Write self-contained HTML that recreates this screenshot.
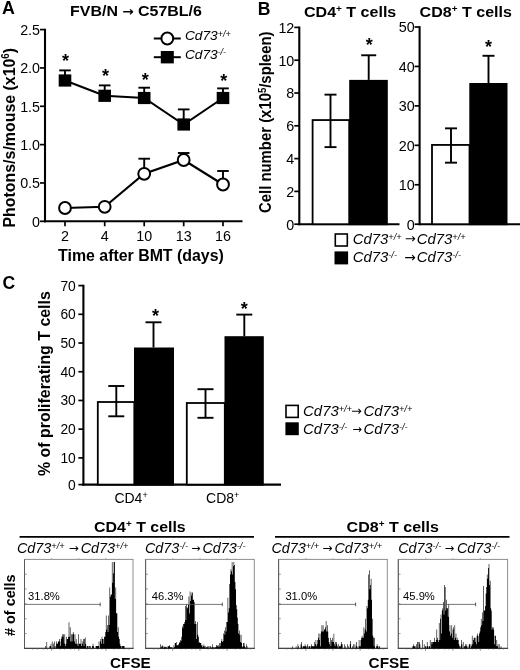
<!DOCTYPE html>
<html lang="en">
<head>
<meta charset="utf-8">
<title>Figure</title>
<style>
html,body{margin:0;padding:0;background:#fff;}
body{width:520px;height:670px;overflow:hidden;}
svg{display:block;font-family:"Liberation Sans", Arial, Helvetica, sans-serif;}
svg text{font-family:"Liberation Sans", Arial, Helvetica, sans-serif;}
</style>
</head>
<body>
<svg width="520" height="670" viewBox="0 0 520 670">
<rect x="0" y="0" width="520" height="670" fill="#fff"/>
<text x="2.00" y="13.80" font-size="17.8" font-weight="bold" font-style="normal" text-anchor="start" fill="#000" >A</text>
<text x="70.10" y="16.00" font-size="15.3" font-weight="bold" font-style="normal" text-anchor="start" fill="#000" textLength="131.8" lengthAdjust="spacingAndGlyphs">FVB/N <tspan font-family='DejaVu Sans' font-size='13'>&#8594;</tspan> C57BL/6</text>
<line x1="45.00" y1="28.75" x2="45.00" y2="222.35" stroke="#000" stroke-width="2.1" stroke-linecap="butt"/>
<line x1="43.95" y1="221.30" x2="242.50" y2="221.30" stroke="#000" stroke-width="2.1" stroke-linecap="butt"/>
<line x1="40.00" y1="221.30" x2="45.00" y2="221.30" stroke="#000" stroke-width="1.7" stroke-linecap="butt"/>
<text x="40.00" y="226.60" font-size="14.3" font-weight="normal" font-style="normal" text-anchor="end" fill="#000" >0</text>
<line x1="40.00" y1="182.96" x2="45.00" y2="182.96" stroke="#000" stroke-width="1.7" stroke-linecap="butt"/>
<text x="40.00" y="188.26" font-size="14.3" font-weight="normal" font-style="normal" text-anchor="end" fill="#000" >0.5</text>
<line x1="40.00" y1="144.62" x2="45.00" y2="144.62" stroke="#000" stroke-width="1.7" stroke-linecap="butt"/>
<text x="40.00" y="149.92" font-size="14.3" font-weight="normal" font-style="normal" text-anchor="end" fill="#000" >1.0</text>
<line x1="40.00" y1="106.28" x2="45.00" y2="106.28" stroke="#000" stroke-width="1.7" stroke-linecap="butt"/>
<text x="40.00" y="111.58" font-size="14.3" font-weight="normal" font-style="normal" text-anchor="end" fill="#000" >1.5</text>
<line x1="40.00" y1="67.94" x2="45.00" y2="67.94" stroke="#000" stroke-width="1.7" stroke-linecap="butt"/>
<text x="40.00" y="73.24" font-size="14.3" font-weight="normal" font-style="normal" text-anchor="end" fill="#000" >2.0</text>
<line x1="40.00" y1="29.60" x2="45.00" y2="29.60" stroke="#000" stroke-width="1.7" stroke-linecap="butt"/>
<text x="40.00" y="34.90" font-size="14.3" font-weight="normal" font-style="normal" text-anchor="end" fill="#000" >2.5</text>
<line x1="65.00" y1="221.30" x2="65.00" y2="226.30" stroke="#000" stroke-width="1.7" stroke-linecap="butt"/>
<text x="65.00" y="241.30" font-size="14.3" font-weight="normal" font-style="normal" text-anchor="middle" fill="#000" >2</text>
<line x1="104.70" y1="221.30" x2="104.70" y2="226.30" stroke="#000" stroke-width="1.7" stroke-linecap="butt"/>
<text x="104.70" y="241.30" font-size="14.3" font-weight="normal" font-style="normal" text-anchor="middle" fill="#000" >4</text>
<line x1="144.20" y1="221.30" x2="144.20" y2="226.30" stroke="#000" stroke-width="1.7" stroke-linecap="butt"/>
<text x="144.20" y="241.30" font-size="14.3" font-weight="normal" font-style="normal" text-anchor="middle" fill="#000" >10</text>
<line x1="183.70" y1="221.30" x2="183.70" y2="226.30" stroke="#000" stroke-width="1.7" stroke-linecap="butt"/>
<text x="183.70" y="241.30" font-size="14.3" font-weight="normal" font-style="normal" text-anchor="middle" fill="#000" >13</text>
<line x1="223.00" y1="221.30" x2="223.00" y2="226.30" stroke="#000" stroke-width="1.7" stroke-linecap="butt"/>
<text x="223.00" y="241.30" font-size="14.3" font-weight="normal" font-style="normal" text-anchor="middle" fill="#000" >16</text>
<text x="58.10" y="260.70" font-size="15.9" font-weight="bold" font-style="normal" text-anchor="start" fill="#000" textLength="165.7" lengthAdjust="spacingAndGlyphs">Time after BMT (days)</text>
<text transform="translate(14.7,227.5) rotate(-90)" font-size="17.4" font-weight="bold" textLength="179.5" lengthAdjust="spacingAndGlyphs">Photons/s/mouse (x10<tspan font-size="10.5" dy="-5.5">6</tspan><tspan dy="5.5" font-size="1">&#8203;</tspan>)</text>
<polyline points="65.0,80.5 104.7,95.8 144.2,98.0 183.7,124.5 223.0,98.0" fill="none" stroke="#000" stroke-width="2.1"/>
<polyline points="65.0,208.0 104.7,206.8 144.2,173.8 183.7,160.0 223.0,184.5" fill="none" stroke="#000" stroke-width="2.1"/>
<line x1="65.00" y1="80.50" x2="65.00" y2="70.40" stroke="#000" stroke-width="1.9" stroke-linecap="butt"/>
<line x1="59.20" y1="70.40" x2="70.80" y2="70.40" stroke="#000" stroke-width="1.9" stroke-linecap="butt"/>
<rect x="58.70" y="74.40" width="12.60" height="12.20" fill="#000" stroke="none" stroke-width="0"/>
<line x1="104.70" y1="95.80" x2="104.70" y2="85.40" stroke="#000" stroke-width="1.9" stroke-linecap="butt"/>
<line x1="98.90" y1="85.40" x2="110.50" y2="85.40" stroke="#000" stroke-width="1.9" stroke-linecap="butt"/>
<rect x="98.40" y="89.70" width="12.60" height="12.20" fill="#000" stroke="none" stroke-width="0"/>
<line x1="144.20" y1="98.00" x2="144.20" y2="87.70" stroke="#000" stroke-width="1.9" stroke-linecap="butt"/>
<line x1="138.40" y1="87.70" x2="150.00" y2="87.70" stroke="#000" stroke-width="1.9" stroke-linecap="butt"/>
<rect x="137.90" y="91.90" width="12.60" height="12.20" fill="#000" stroke="none" stroke-width="0"/>
<line x1="183.70" y1="124.50" x2="183.70" y2="109.40" stroke="#000" stroke-width="1.9" stroke-linecap="butt"/>
<line x1="177.90" y1="109.40" x2="189.50" y2="109.40" stroke="#000" stroke-width="1.9" stroke-linecap="butt"/>
<rect x="177.40" y="118.40" width="12.60" height="12.20" fill="#000" stroke="none" stroke-width="0"/>
<line x1="223.00" y1="98.00" x2="223.00" y2="88.40" stroke="#000" stroke-width="1.9" stroke-linecap="butt"/>
<line x1="217.20" y1="88.40" x2="228.80" y2="88.40" stroke="#000" stroke-width="1.9" stroke-linecap="butt"/>
<rect x="216.70" y="91.90" width="12.60" height="12.20" fill="#000" stroke="none" stroke-width="0"/>
<circle cx="65" cy="208" r="5.9" fill="#fff" stroke="#000" stroke-width="2.0"/>
<circle cx="104.7" cy="206.8" r="5.9" fill="#fff" stroke="#000" stroke-width="2.0"/>
<line x1="144.20" y1="173.80" x2="144.20" y2="158.70" stroke="#000" stroke-width="1.9" stroke-linecap="butt"/>
<line x1="138.40" y1="158.70" x2="150.00" y2="158.70" stroke="#000" stroke-width="1.9" stroke-linecap="butt"/>
<circle cx="144.2" cy="173.8" r="5.9" fill="#fff" stroke="#000" stroke-width="2.0"/>
<line x1="183.70" y1="160.00" x2="183.70" y2="153.00" stroke="#000" stroke-width="1.9" stroke-linecap="butt"/>
<line x1="177.90" y1="153.00" x2="189.50" y2="153.00" stroke="#000" stroke-width="1.9" stroke-linecap="butt"/>
<circle cx="183.7" cy="160" r="5.9" fill="#fff" stroke="#000" stroke-width="2.0"/>
<line x1="223.00" y1="184.50" x2="223.00" y2="171.00" stroke="#000" stroke-width="1.9" stroke-linecap="butt"/>
<line x1="217.20" y1="171.00" x2="228.80" y2="171.00" stroke="#000" stroke-width="1.9" stroke-linecap="butt"/>
<circle cx="223" cy="184.5" r="5.9" fill="#fff" stroke="#000" stroke-width="2.0"/>
<text x="65.50" y="67.38" font-size="18" font-weight="bold" font-style="normal" text-anchor="middle" fill="#000" >*</text>
<text x="105.50" y="82.18" font-size="18" font-weight="bold" font-style="normal" text-anchor="middle" fill="#000" >*</text>
<text x="145.30" y="86.48" font-size="18" font-weight="bold" font-style="normal" text-anchor="middle" fill="#000" >*</text>
<text x="223.80" y="86.98" font-size="18" font-weight="bold" font-style="normal" text-anchor="middle" fill="#000" >*</text>
<line x1="153.80" y1="38.50" x2="180.80" y2="38.50" stroke="#000" stroke-width="2.0" stroke-linecap="butt"/>
<circle cx="167.3" cy="38.5" r="5.9" fill="#fff" stroke="#000" stroke-width="2.0"/>
<line x1="153.80" y1="57.20" x2="180.80" y2="57.20" stroke="#000" stroke-width="2.0" stroke-linecap="butt"/>
<rect x="160.80" y="51.00" width="13.00" height="12.40" fill="#000" stroke="none" stroke-width="0"/>
<text x="184.90" y="40.40" font-size="13.7" font-weight="normal" font-style="italic" text-anchor="start" fill="#000" >Cd73<tspan font-size="9.0" dy="-3.6">+/+</tspan><tspan dy="3.6" font-size="1">&#8203;</tspan></text>
<text x="184.90" y="58.60" font-size="13.7" font-weight="normal" font-style="italic" text-anchor="start" fill="#000" >Cd73<tspan font-size="9.0" dy="-3.6">-/-</tspan><tspan dy="3.6" font-size="1">&#8203;</tspan></text>
<text x="257.80" y="14.90" font-size="17.6" font-weight="bold" font-style="normal" text-anchor="start" fill="#000" >B</text>
<text x="304.00" y="16.60" font-size="15.3" font-weight="bold" font-style="normal" text-anchor="start" fill="#000" textLength="92.3" lengthAdjust="spacingAndGlyphs">CD4<tspan font-size="9.5" dy="-4.5">+</tspan><tspan dy="4.5" font-size="1">&#8203;</tspan> T cells</text>
<text x="419.60" y="16.90" font-size="15.3" font-weight="bold" font-style="normal" text-anchor="start" fill="#000" textLength="92.3" lengthAdjust="spacingAndGlyphs">CD8<tspan font-size="9.5" dy="-4.5">+</tspan><tspan dy="4.5" font-size="1">&#8203;</tspan> T cells</text>
<text transform="translate(270.8,213) rotate(-90)" font-size="15.6" font-weight="bold" textLength="181.5" lengthAdjust="spacingAndGlyphs">Cell number (x10<tspan font-size="10" dy="-5.2">5</tspan><tspan dy="5.2" font-size="1">&#8203;</tspan>/spleen)</text>
<line x1="299.30" y1="26.55" x2="299.30" y2="225.25" stroke="#000" stroke-width="2.1" stroke-linecap="butt"/>
<line x1="298.25" y1="224.20" x2="399.50" y2="224.20" stroke="#000" stroke-width="2.1" stroke-linecap="butt"/>
<line x1="294.30" y1="224.20" x2="299.30" y2="224.20" stroke="#000" stroke-width="1.7" stroke-linecap="butt"/>
<text x="294.30" y="229.50" font-size="14.3" font-weight="normal" font-style="normal" text-anchor="end" fill="#000" >0</text>
<line x1="294.30" y1="191.40" x2="299.30" y2="191.40" stroke="#000" stroke-width="1.7" stroke-linecap="butt"/>
<text x="294.30" y="196.70" font-size="14.3" font-weight="normal" font-style="normal" text-anchor="end" fill="#000" >2</text>
<line x1="294.30" y1="158.60" x2="299.30" y2="158.60" stroke="#000" stroke-width="1.7" stroke-linecap="butt"/>
<text x="294.30" y="163.90" font-size="14.3" font-weight="normal" font-style="normal" text-anchor="end" fill="#000" >4</text>
<line x1="294.30" y1="125.80" x2="299.30" y2="125.80" stroke="#000" stroke-width="1.7" stroke-linecap="butt"/>
<text x="294.30" y="131.10" font-size="14.3" font-weight="normal" font-style="normal" text-anchor="end" fill="#000" >6</text>
<line x1="294.30" y1="93.00" x2="299.30" y2="93.00" stroke="#000" stroke-width="1.7" stroke-linecap="butt"/>
<text x="294.30" y="98.30" font-size="14.3" font-weight="normal" font-style="normal" text-anchor="end" fill="#000" >8</text>
<line x1="294.30" y1="60.20" x2="299.30" y2="60.20" stroke="#000" stroke-width="1.7" stroke-linecap="butt"/>
<text x="294.30" y="65.50" font-size="14.3" font-weight="normal" font-style="normal" text-anchor="end" fill="#000" >10</text>
<line x1="294.30" y1="27.40" x2="299.30" y2="27.40" stroke="#000" stroke-width="1.7" stroke-linecap="butt"/>
<text x="294.30" y="32.70" font-size="14.3" font-weight="normal" font-style="normal" text-anchor="end" fill="#000" >12</text>
<rect x="312.60" y="120.06" width="36.60" height="104.14" fill="#fff" stroke="#000" stroke-width="1.8"/>
<line x1="330.50" y1="147.12" x2="330.50" y2="94.64" stroke="#000" stroke-width="1.9" stroke-linecap="butt"/>
<line x1="324.50" y1="147.12" x2="336.50" y2="147.12" stroke="#000" stroke-width="1.9" stroke-linecap="butt"/>
<line x1="324.50" y1="94.64" x2="336.50" y2="94.64" stroke="#000" stroke-width="1.9" stroke-linecap="butt"/>
<rect x="349.20" y="79.88" width="38.60" height="145.32" fill="#000" stroke="none" stroke-width="0"/>
<line x1="368.70" y1="79.88" x2="368.70" y2="55.28" stroke="#000" stroke-width="1.9" stroke-linecap="butt"/>
<line x1="361.20" y1="55.28" x2="376.20" y2="55.28" stroke="#000" stroke-width="1.9" stroke-linecap="butt"/>
<text x="369.20" y="51.08" font-size="18" font-weight="bold" font-style="normal" text-anchor="middle" fill="#000" >*</text>
<line x1="419.60" y1="26.15" x2="419.60" y2="225.25" stroke="#000" stroke-width="2.1" stroke-linecap="butt"/>
<line x1="418.55" y1="224.20" x2="520.00" y2="224.20" stroke="#000" stroke-width="2.1" stroke-linecap="butt"/>
<line x1="414.60" y1="224.20" x2="419.60" y2="224.20" stroke="#000" stroke-width="1.7" stroke-linecap="butt"/>
<text x="414.60" y="229.50" font-size="14.3" font-weight="normal" font-style="normal" text-anchor="end" fill="#000" >0</text>
<line x1="414.60" y1="184.76" x2="419.60" y2="184.76" stroke="#000" stroke-width="1.7" stroke-linecap="butt"/>
<text x="414.60" y="190.06" font-size="14.3" font-weight="normal" font-style="normal" text-anchor="end" fill="#000" >10</text>
<line x1="414.60" y1="145.32" x2="419.60" y2="145.32" stroke="#000" stroke-width="1.7" stroke-linecap="butt"/>
<text x="414.60" y="150.62" font-size="14.3" font-weight="normal" font-style="normal" text-anchor="end" fill="#000" >20</text>
<line x1="414.60" y1="105.88" x2="419.60" y2="105.88" stroke="#000" stroke-width="1.7" stroke-linecap="butt"/>
<text x="414.60" y="111.18" font-size="14.3" font-weight="normal" font-style="normal" text-anchor="end" fill="#000" >30</text>
<line x1="414.60" y1="66.44" x2="419.60" y2="66.44" stroke="#000" stroke-width="1.7" stroke-linecap="butt"/>
<text x="414.60" y="71.74" font-size="14.3" font-weight="normal" font-style="normal" text-anchor="end" fill="#000" >40</text>
<line x1="414.60" y1="27.00" x2="419.60" y2="27.00" stroke="#000" stroke-width="1.7" stroke-linecap="butt"/>
<text x="414.60" y="32.30" font-size="14.3" font-weight="normal" font-style="normal" text-anchor="end" fill="#000" >50</text>
<rect x="432.00" y="144.93" width="37.50" height="79.27" fill="#fff" stroke="#000" stroke-width="1.8"/>
<line x1="451.00" y1="162.67" x2="451.00" y2="128.36" stroke="#000" stroke-width="1.9" stroke-linecap="butt"/>
<line x1="445.00" y1="162.67" x2="457.00" y2="162.67" stroke="#000" stroke-width="1.9" stroke-linecap="butt"/>
<line x1="445.00" y1="128.36" x2="457.00" y2="128.36" stroke="#000" stroke-width="1.9" stroke-linecap="butt"/>
<rect x="469.30" y="83.00" width="38.20" height="142.20" fill="#000" stroke="none" stroke-width="0"/>
<line x1="488.50" y1="83.00" x2="488.50" y2="55.79" stroke="#000" stroke-width="1.9" stroke-linecap="butt"/>
<line x1="482.50" y1="55.79" x2="494.50" y2="55.79" stroke="#000" stroke-width="1.9" stroke-linecap="butt"/>
<text x="488.50" y="53.18" font-size="18" font-weight="bold" font-style="normal" text-anchor="middle" fill="#000" >*</text>
<rect x="335.30" y="234.00" width="12.00" height="12.00" fill="#fff" stroke="#000" stroke-width="1.6"/>
<rect x="334.50" y="251.40" width="13.60" height="13.00" fill="#000" stroke="none" stroke-width="0"/>
<text x="352.70" y="243.90" font-size="14.9" font-weight="normal" font-style="italic" text-anchor="start" fill="#000" >Cd73<tspan font-size="9.2" dy="-4.2">+/+</tspan><tspan dy="4.2" font-size="1">&#8203;</tspan></text>
<text x="404.89" y="243.29" font-size="12.95" style="font-family:'DejaVu Sans',sans-serif">&#8594;</text>
<text x="416.70" y="243.90" font-size="14.9" font-weight="normal" font-style="italic" text-anchor="start" fill="#000" >Cd73<tspan font-size="9.2" dy="-4.2">+/+</tspan><tspan dy="4.2" font-size="1">&#8203;</tspan></text>
<text x="352.70" y="262.00" font-size="14.9" font-weight="normal" font-style="italic" text-anchor="start" fill="#000" >Cd73<tspan font-size="9.2" dy="-4.2">-/-</tspan><tspan dy="4.2" font-size="1">&#8203;</tspan></text>
<text x="404.24" y="261.61" font-size="13.72" style="font-family:'DejaVu Sans',sans-serif">&#8594;</text>
<text x="416.70" y="262.00" font-size="14.9" font-weight="normal" font-style="italic" text-anchor="start" fill="#000" >Cd73<tspan font-size="9.2" dy="-4.2">-/-</tspan><tspan dy="4.2" font-size="1">&#8203;</tspan></text>
<text x="2.40" y="288.90" font-size="17.6" font-weight="bold" font-style="normal" text-anchor="start" fill="#000" >C</text>
<line x1="83.40" y1="284.75" x2="83.40" y2="485.65" stroke="#000" stroke-width="2.1" stroke-linecap="butt"/>
<line x1="82.35" y1="484.60" x2="281.00" y2="484.60" stroke="#000" stroke-width="2.1" stroke-linecap="butt"/>
<line x1="78.40" y1="484.60" x2="83.40" y2="484.60" stroke="#000" stroke-width="1.7" stroke-linecap="butt"/>
<text x="75.80" y="489.60" font-size="13.8" font-weight="normal" font-style="normal" text-anchor="end" fill="#000" >0</text>
<line x1="78.40" y1="457.89" x2="83.40" y2="457.89" stroke="#000" stroke-width="1.7" stroke-linecap="butt"/>
<text x="75.80" y="462.89" font-size="13.8" font-weight="normal" font-style="normal" text-anchor="end" fill="#000" >10</text>
<line x1="78.40" y1="429.17" x2="83.40" y2="429.17" stroke="#000" stroke-width="1.7" stroke-linecap="butt"/>
<text x="75.80" y="434.17" font-size="13.8" font-weight="normal" font-style="normal" text-anchor="end" fill="#000" >20</text>
<line x1="78.40" y1="400.46" x2="83.40" y2="400.46" stroke="#000" stroke-width="1.7" stroke-linecap="butt"/>
<text x="75.80" y="405.46" font-size="13.8" font-weight="normal" font-style="normal" text-anchor="end" fill="#000" >30</text>
<line x1="78.40" y1="371.74" x2="83.40" y2="371.74" stroke="#000" stroke-width="1.7" stroke-linecap="butt"/>
<text x="75.80" y="376.74" font-size="13.8" font-weight="normal" font-style="normal" text-anchor="end" fill="#000" >40</text>
<line x1="78.40" y1="343.03" x2="83.40" y2="343.03" stroke="#000" stroke-width="1.7" stroke-linecap="butt"/>
<text x="75.80" y="348.03" font-size="13.8" font-weight="normal" font-style="normal" text-anchor="end" fill="#000" >50</text>
<line x1="78.40" y1="314.31" x2="83.40" y2="314.31" stroke="#000" stroke-width="1.7" stroke-linecap="butt"/>
<text x="75.80" y="319.31" font-size="13.8" font-weight="normal" font-style="normal" text-anchor="end" fill="#000" >60</text>
<line x1="78.40" y1="285.60" x2="83.40" y2="285.60" stroke="#000" stroke-width="1.7" stroke-linecap="butt"/>
<text x="75.80" y="290.60" font-size="13.8" font-weight="normal" font-style="normal" text-anchor="end" fill="#000" >70</text>
<text transform="translate(50.2,476) rotate(-90)" font-size="16.2" font-weight="bold" textLength="184.8" lengthAdjust="spacingAndGlyphs">% of proliferating T cells</text>
<rect x="97.80" y="402.00" width="36.50" height="82.60" fill="#fff" stroke="#000" stroke-width="1.8"/>
<line x1="116.30" y1="386.00" x2="116.30" y2="416.30" stroke="#000" stroke-width="1.9" stroke-linecap="butt"/>
<line x1="108.30" y1="386.00" x2="124.30" y2="386.00" stroke="#000" stroke-width="1.9" stroke-linecap="butt"/>
<line x1="108.30" y1="416.30" x2="124.30" y2="416.30" stroke="#000" stroke-width="1.9" stroke-linecap="butt"/>
<rect x="134.00" y="347.50" width="40.00" height="138.10" fill="#000" stroke="none" stroke-width="0"/>
<line x1="153.50" y1="347.50" x2="153.50" y2="322.30" stroke="#000" stroke-width="1.9" stroke-linecap="butt"/>
<line x1="145.50" y1="322.30" x2="161.50" y2="322.30" stroke="#000" stroke-width="1.9" stroke-linecap="butt"/>
<text x="155.40" y="322.18" font-size="18" font-weight="bold" font-style="normal" text-anchor="middle" fill="#000" >*</text>
<rect x="186.80" y="403.00" width="38.00" height="81.60" fill="#fff" stroke="#000" stroke-width="1.8"/>
<line x1="205.50" y1="389.20" x2="205.50" y2="417.80" stroke="#000" stroke-width="1.9" stroke-linecap="butt"/>
<line x1="197.50" y1="389.20" x2="213.50" y2="389.20" stroke="#000" stroke-width="1.9" stroke-linecap="butt"/>
<line x1="197.50" y1="417.80" x2="213.50" y2="417.80" stroke="#000" stroke-width="1.9" stroke-linecap="butt"/>
<rect x="224.50" y="336.20" width="39.30" height="149.40" fill="#000" stroke="none" stroke-width="0"/>
<line x1="244.30" y1="336.20" x2="244.30" y2="314.60" stroke="#000" stroke-width="1.9" stroke-linecap="butt"/>
<line x1="236.30" y1="314.60" x2="252.30" y2="314.60" stroke="#000" stroke-width="1.9" stroke-linecap="butt"/>
<text x="244.30" y="315.48" font-size="18" font-weight="bold" font-style="normal" text-anchor="middle" fill="#000" >*</text>
<text x="114.40" y="502.60" font-size="14.0" font-weight="normal" font-style="normal" text-anchor="start" fill="#000" >CD4<tspan font-size="9" dy="-5">+</tspan><tspan dy="5" font-size="1">&#8203;</tspan></text>
<text x="206.10" y="502.60" font-size="14.0" font-weight="normal" font-style="normal" text-anchor="start" fill="#000" >CD8<tspan font-size="9" dy="-5">+</tspan><tspan dy="5" font-size="1">&#8203;</tspan></text>
<rect x="286.00" y="405.40" width="12.20" height="12.00" fill="#fff" stroke="#000" stroke-width="1.6"/>
<rect x="285.40" y="422.30" width="13.40" height="12.90" fill="#000" stroke="none" stroke-width="0"/>
<text x="303.10" y="416.00" font-size="14.9" font-weight="normal" font-style="italic" text-anchor="start" fill="#000" >Cd73<tspan font-size="9.2" dy="-4.2">+/+</tspan><tspan dy="4.2" font-size="1">&#8203;</tspan></text>
<text x="351.31" y="415.22" font-size="12.69" style="font-family:'DejaVu Sans',sans-serif">&#8594;</text>
<text x="363.40" y="416.00" font-size="14.9" font-weight="normal" font-style="italic" text-anchor="start" fill="#000" >Cd73<tspan font-size="9.2" dy="-4.2">+/+</tspan><tspan dy="4.2" font-size="1">&#8203;</tspan></text>
<text x="303.10" y="434.00" font-size="14.9" font-weight="normal" font-style="italic" text-anchor="start" fill="#000" >Cd73<tspan font-size="9.2" dy="-4.2">-/-</tspan><tspan dy="4.2" font-size="1">&#8203;</tspan></text>
<text x="352.40" y="432.95" font-size="11.41" style="font-family:'DejaVu Sans',sans-serif">&#8594;</text>
<text x="363.40" y="434.00" font-size="14.9" font-weight="normal" font-style="italic" text-anchor="start" fill="#000" >Cd73<tspan font-size="9.2" dy="-4.2">-/-</tspan><tspan dy="4.2" font-size="1">&#8203;</tspan></text>
<text x="94.10" y="531.60" font-size="15.3" font-weight="bold" font-style="normal" text-anchor="start" fill="#000" textLength="91.6" lengthAdjust="spacingAndGlyphs">CD4<tspan font-size="9.5" dy="-4.5">+</tspan><tspan dy="4.5" font-size="1">&#8203;</tspan> T cells</text>
<text x="346.60" y="531.60" font-size="15.3" font-weight="bold" font-style="normal" text-anchor="start" fill="#000" textLength="92.3" lengthAdjust="spacingAndGlyphs">CD8<tspan font-size="9.5" dy="-4.5">+</tspan><tspan dy="4.5" font-size="1">&#8203;</tspan> T cells</text>
<line x1="19.60" y1="536.90" x2="254.00" y2="536.90" stroke="#000" stroke-width="1.9" stroke-linecap="butt"/>
<line x1="275.00" y1="536.90" x2="509.50" y2="536.90" stroke="#000" stroke-width="1.9" stroke-linecap="butt"/>
<text x="16.90" y="552.80" font-size="14.4" font-weight="normal" font-style="italic" text-anchor="start" fill="#000" >Cd73<tspan font-size="9.2" dy="-4.2">+/+</tspan><tspan dy="4.2" font-size="1">&#8203;</tspan></text>
<text x="68.67" y="551.90" font-size="11.92" style="font-family:'DejaVu Sans',sans-serif">&#8594;</text>
<text x="80.70" y="552.80" font-size="14.4" font-weight="normal" font-style="italic" text-anchor="start" fill="#000" >Cd73<tspan font-size="9.2" dy="-4.2">+/+</tspan><tspan dy="4.2" font-size="1">&#8203;</tspan></text>
<text x="144.90" y="552.80" font-size="14.4" font-weight="normal" font-style="italic" text-anchor="start" fill="#000" >Cd73<tspan font-size="9.2" dy="-4.2">-/-</tspan><tspan dy="4.2" font-size="1">&#8203;</tspan></text>
<text x="191.24" y="551.61" font-size="10.90" style="font-family:'DejaVu Sans',sans-serif">&#8594;</text>
<text x="202.40" y="552.80" font-size="14.4" font-weight="normal" font-style="italic" text-anchor="start" fill="#000" >Cd73<tspan font-size="9.2" dy="-4.2">-/-</tspan><tspan dy="4.2" font-size="1">&#8203;</tspan></text>
<text x="271.40" y="552.80" font-size="14.4" font-weight="normal" font-style="italic" text-anchor="start" fill="#000" >Cd73<tspan font-size="9.2" dy="-4.2">+/+</tspan><tspan dy="4.2" font-size="1">&#8203;</tspan></text>
<text x="322.15" y="551.97" font-size="12.18" style="font-family:'DejaVu Sans',sans-serif">&#8594;</text>
<text x="334.40" y="552.80" font-size="14.4" font-weight="normal" font-style="italic" text-anchor="start" fill="#000" >Cd73<tspan font-size="9.2" dy="-4.2">+/+</tspan><tspan dy="4.2" font-size="1">&#8203;</tspan></text>
<text x="398.20" y="552.80" font-size="14.4" font-weight="normal" font-style="italic" text-anchor="start" fill="#000" >Cd73<tspan font-size="9.2" dy="-4.2">-/-</tspan><tspan dy="4.2" font-size="1">&#8203;</tspan></text>
<text x="444.69" y="551.79" font-size="11.54" style="font-family:'DejaVu Sans',sans-serif">&#8594;</text>
<text x="456.90" y="552.80" font-size="14.4" font-weight="normal" font-style="italic" text-anchor="start" fill="#000" >Cd73<tspan font-size="9.2" dy="-4.2">-/-</tspan><tspan dy="4.2" font-size="1">&#8203;</tspan></text>
<text transform="translate(14.8,635.9) rotate(-90)" font-size="14.6" font-weight="bold" textLength="61.5" lengthAdjust="spacingAndGlyphs"># of cells</text>
<text x="110.00" y="668.30" font-size="13.8" font-weight="bold" font-style="normal" text-anchor="start" fill="#000" textLength="40.8" lengthAdjust="spacingAndGlyphs">CFSE</text>
<text x="368.60" y="668.30" font-size="13.8" font-weight="bold" font-style="normal" text-anchor="start" fill="#000" textLength="40.8" lengthAdjust="spacingAndGlyphs">CFSE</text>
<rect x="24.5" y="559.4" width="108.50" height="89.00" fill="none" stroke="#8e8e8e" stroke-width="1.0"/>
<line x1="24.50" y1="559.40" x2="24.50" y2="648.40" stroke="#5a5a5a" stroke-width="1.0" stroke-linecap="butt"/>
<line x1="24.00" y1="648.40" x2="133.50" y2="648.40" stroke="#444" stroke-width="1.1" stroke-linecap="butt"/>
<line x1="24.50" y1="633.57" x2="26.70" y2="633.57" stroke="#777" stroke-width="0.8" stroke-linecap="butt"/>
<line x1="24.50" y1="618.73" x2="26.70" y2="618.73" stroke="#777" stroke-width="0.8" stroke-linecap="butt"/>
<line x1="24.50" y1="603.90" x2="26.70" y2="603.90" stroke="#777" stroke-width="0.8" stroke-linecap="butt"/>
<line x1="24.50" y1="589.07" x2="26.70" y2="589.07" stroke="#777" stroke-width="0.8" stroke-linecap="butt"/>
<line x1="24.50" y1="574.23" x2="26.70" y2="574.23" stroke="#777" stroke-width="0.8" stroke-linecap="butt"/>
<line x1="32.67" y1="648.40" x2="32.67" y2="649.60" stroke="#666" stroke-width="0.7" stroke-linecap="butt"/>
<line x1="37.44" y1="648.40" x2="37.44" y2="649.60" stroke="#666" stroke-width="0.7" stroke-linecap="butt"/>
<line x1="43.46" y1="648.40" x2="43.46" y2="649.60" stroke="#666" stroke-width="0.7" stroke-linecap="butt"/>
<line x1="47.42" y1="648.40" x2="47.42" y2="649.60" stroke="#666" stroke-width="0.7" stroke-linecap="butt"/>
<line x1="51.62" y1="648.40" x2="51.62" y2="650.80" stroke="#666" stroke-width="0.7" stroke-linecap="butt"/>
<line x1="51.62" y1="559.40" x2="51.62" y2="557.80" stroke="#999" stroke-width="0.7" stroke-linecap="butt"/>
<line x1="59.79" y1="648.40" x2="59.79" y2="649.60" stroke="#666" stroke-width="0.7" stroke-linecap="butt"/>
<line x1="64.57" y1="648.40" x2="64.57" y2="649.60" stroke="#666" stroke-width="0.7" stroke-linecap="butt"/>
<line x1="70.58" y1="648.40" x2="70.58" y2="649.60" stroke="#666" stroke-width="0.7" stroke-linecap="butt"/>
<line x1="74.55" y1="648.40" x2="74.55" y2="649.60" stroke="#666" stroke-width="0.7" stroke-linecap="butt"/>
<line x1="78.75" y1="648.40" x2="78.75" y2="650.80" stroke="#666" stroke-width="0.7" stroke-linecap="butt"/>
<line x1="78.75" y1="559.40" x2="78.75" y2="557.80" stroke="#999" stroke-width="0.7" stroke-linecap="butt"/>
<line x1="86.92" y1="648.40" x2="86.92" y2="649.60" stroke="#666" stroke-width="0.7" stroke-linecap="butt"/>
<line x1="91.69" y1="648.40" x2="91.69" y2="649.60" stroke="#666" stroke-width="0.7" stroke-linecap="butt"/>
<line x1="97.71" y1="648.40" x2="97.71" y2="649.60" stroke="#666" stroke-width="0.7" stroke-linecap="butt"/>
<line x1="101.67" y1="648.40" x2="101.67" y2="649.60" stroke="#666" stroke-width="0.7" stroke-linecap="butt"/>
<line x1="105.88" y1="648.40" x2="105.88" y2="650.80" stroke="#666" stroke-width="0.7" stroke-linecap="butt"/>
<line x1="105.88" y1="559.40" x2="105.88" y2="557.80" stroke="#999" stroke-width="0.7" stroke-linecap="butt"/>
<line x1="114.04" y1="648.40" x2="114.04" y2="649.60" stroke="#666" stroke-width="0.7" stroke-linecap="butt"/>
<line x1="118.82" y1="648.40" x2="118.82" y2="649.60" stroke="#666" stroke-width="0.7" stroke-linecap="butt"/>
<line x1="124.83" y1="648.40" x2="124.83" y2="649.60" stroke="#666" stroke-width="0.7" stroke-linecap="butt"/>
<line x1="128.80" y1="648.40" x2="128.80" y2="649.60" stroke="#666" stroke-width="0.7" stroke-linecap="butt"/>
<path d="M25.50,648.4V648.4H26.10V648.4H26.70V648.4H27.30V648.4H27.90V648.4H28.50V648.4H29.10V648.4H29.70V648.4H30.30V648.4H30.90V648.4H31.50V648.4H32.10V648.4H32.70V648.4H33.30V648.4H33.90V648.4H34.50V648.4H35.10V648.4H35.70V648.4H36.30V648.4H36.90V648.4H37.50V648.4H38.10V648.4H38.70V648.4H39.30V648.4H39.90V648.4H40.50V648.4H41.10V648.4H41.70V648.4H42.30V648.4H42.90V648.4H43.50V648.4H44.10V648.4H44.70V648.4H45.30V646.1H45.90V648.4H46.50V642.0H47.10V648.4H47.70V648.4H48.30V648.4H48.90V648.4H49.50V646.1H50.10V646.1H50.70V643.7H51.30V648.4H51.90V641.4H52.50V648.4H53.10V643.7H53.70V648.4H54.30V641.4H54.90V646.1H55.50V648.4H56.10V641.4H56.70V643.7H57.30V643.7H57.90V641.4H58.50V641.4H59.10V639.0H59.70V641.4H60.30V646.1H60.90V639.0H61.50V636.7H62.10V634.3H62.70V636.7H63.30V634.3H63.90V643.7H64.50V634.3H65.10V646.1H65.70V643.7H66.30V636.7H66.90V639.0H67.50V639.0H68.10V636.7H68.70V622.3H69.30V636.7H69.90V627.3H70.50V641.4H71.10V634.3H71.70V641.4H72.30V634.3H72.90V632.0H73.50V634.3H74.10V641.4H74.70V634.3H75.30V643.7H75.90V639.0H76.50V643.7H77.10V643.7H77.70V646.1H78.30V634.3H78.90V643.7H79.50V643.7H80.10V643.7H80.70V639.0H81.30V646.1H81.90V643.7H82.50V641.4H83.10V639.0H83.70V646.1H84.30V639.0H84.90V637.4H85.50V643.7H86.10V648.4H86.70V646.1H87.30V646.1H87.90V648.4H88.50V646.1H89.10V646.1H89.70V648.4H90.30V646.1H90.90V648.4H91.50V648.4H92.10V646.1H92.70V643.7H93.30V646.1H93.90V648.4H94.50V648.4H95.10V648.4H95.70V646.1H96.30V646.1H96.90V646.1H97.50V646.1H98.10V646.1H98.70V641.4H99.30V648.4H99.90V641.4H100.50V639.0H101.10V643.7H101.70V636.7H102.30V639.0H102.90V639.0H103.50V643.7H104.10V636.7H104.70V636.7H105.30V632.0H105.90V615.5H106.50V629.6H107.10V624.9H107.70V632.0H108.30V615.5H108.90V624.9H109.50V587.4H110.10V596.8H110.70V594.4H111.30V594.4H111.90V561.9H112.50V582.7H113.10V573.3H113.70V561.9H114.30V561.9H114.90V599.1H115.50V587.4H116.10V613.2H116.70V613.2H117.30V632.0H117.90V627.3H118.50V636.7H119.10V639.0H119.70V643.7H120.30V646.1H120.90V646.1H121.50V648.4H122.10V646.1H122.70V646.1H123.30V646.1H123.90V646.1H124.50V648.4H125.10V648.4H125.70V648.4H126.30V648.4H126.90V648.4H127.50V648.4H128.10V648.4H128.70V648.4H129.30V648.4H129.90V648.4H130.50V648.4H131.10V648.4H131.70V648.4H132.30V648.4Z" fill="#000"/>
<line x1="24.50" y1="604.40" x2="100.20" y2="604.40" stroke="#555" stroke-width="0.8" stroke-linecap="butt"/>
<line x1="100.20" y1="602.60" x2="100.20" y2="606.20" stroke="#444" stroke-width="0.9" stroke-linecap="butt"/>
<text x="28.10" y="599.60" font-size="11.2" font-weight="normal" font-style="normal" text-anchor="start" fill="#000" >31.8%</text>
<rect x="145.6" y="559.4" width="108.70" height="89.00" fill="none" stroke="#8e8e8e" stroke-width="1.0"/>
<line x1="145.60" y1="559.40" x2="145.60" y2="648.40" stroke="#5a5a5a" stroke-width="1.0" stroke-linecap="butt"/>
<line x1="145.10" y1="648.40" x2="254.80" y2="648.40" stroke="#444" stroke-width="1.1" stroke-linecap="butt"/>
<line x1="145.60" y1="633.57" x2="147.80" y2="633.57" stroke="#777" stroke-width="0.8" stroke-linecap="butt"/>
<line x1="145.60" y1="618.73" x2="147.80" y2="618.73" stroke="#777" stroke-width="0.8" stroke-linecap="butt"/>
<line x1="145.60" y1="603.90" x2="147.80" y2="603.90" stroke="#777" stroke-width="0.8" stroke-linecap="butt"/>
<line x1="145.60" y1="589.07" x2="147.80" y2="589.07" stroke="#777" stroke-width="0.8" stroke-linecap="butt"/>
<line x1="145.60" y1="574.23" x2="147.80" y2="574.23" stroke="#777" stroke-width="0.8" stroke-linecap="butt"/>
<line x1="153.78" y1="648.40" x2="153.78" y2="649.60" stroke="#666" stroke-width="0.7" stroke-linecap="butt"/>
<line x1="158.57" y1="648.40" x2="158.57" y2="649.60" stroke="#666" stroke-width="0.7" stroke-linecap="butt"/>
<line x1="164.59" y1="648.40" x2="164.59" y2="649.60" stroke="#666" stroke-width="0.7" stroke-linecap="butt"/>
<line x1="168.57" y1="648.40" x2="168.57" y2="649.60" stroke="#666" stroke-width="0.7" stroke-linecap="butt"/>
<line x1="172.78" y1="648.40" x2="172.78" y2="650.80" stroke="#666" stroke-width="0.7" stroke-linecap="butt"/>
<line x1="172.78" y1="559.40" x2="172.78" y2="557.80" stroke="#999" stroke-width="0.7" stroke-linecap="butt"/>
<line x1="180.96" y1="648.40" x2="180.96" y2="649.60" stroke="#666" stroke-width="0.7" stroke-linecap="butt"/>
<line x1="185.74" y1="648.40" x2="185.74" y2="649.60" stroke="#666" stroke-width="0.7" stroke-linecap="butt"/>
<line x1="191.77" y1="648.40" x2="191.77" y2="649.60" stroke="#666" stroke-width="0.7" stroke-linecap="butt"/>
<line x1="195.74" y1="648.40" x2="195.74" y2="649.60" stroke="#666" stroke-width="0.7" stroke-linecap="butt"/>
<line x1="199.95" y1="648.40" x2="199.95" y2="650.80" stroke="#666" stroke-width="0.7" stroke-linecap="butt"/>
<line x1="199.95" y1="559.40" x2="199.95" y2="557.80" stroke="#999" stroke-width="0.7" stroke-linecap="butt"/>
<line x1="208.13" y1="648.40" x2="208.13" y2="649.60" stroke="#666" stroke-width="0.7" stroke-linecap="butt"/>
<line x1="212.92" y1="648.40" x2="212.92" y2="649.60" stroke="#666" stroke-width="0.7" stroke-linecap="butt"/>
<line x1="218.94" y1="648.40" x2="218.94" y2="649.60" stroke="#666" stroke-width="0.7" stroke-linecap="butt"/>
<line x1="222.92" y1="648.40" x2="222.92" y2="649.60" stroke="#666" stroke-width="0.7" stroke-linecap="butt"/>
<line x1="227.12" y1="648.40" x2="227.12" y2="650.80" stroke="#666" stroke-width="0.7" stroke-linecap="butt"/>
<line x1="227.12" y1="559.40" x2="227.12" y2="557.80" stroke="#999" stroke-width="0.7" stroke-linecap="butt"/>
<line x1="235.31" y1="648.40" x2="235.31" y2="649.60" stroke="#666" stroke-width="0.7" stroke-linecap="butt"/>
<line x1="240.09" y1="648.40" x2="240.09" y2="649.60" stroke="#666" stroke-width="0.7" stroke-linecap="butt"/>
<line x1="246.12" y1="648.40" x2="246.12" y2="649.60" stroke="#666" stroke-width="0.7" stroke-linecap="butt"/>
<line x1="250.09" y1="648.40" x2="250.09" y2="649.60" stroke="#666" stroke-width="0.7" stroke-linecap="butt"/>
<path d="M146.60,648.4V648.4H147.20V648.4H147.80V648.4H148.40V648.4H149.00V648.4H149.60V648.4H150.20V648.4H150.80V648.4H151.40V648.4H152.00V648.4H152.60V648.4H153.20V648.4H153.80V648.4H154.40V648.4H155.00V648.4H155.60V648.4H156.20V648.4H156.80V648.4H157.40V648.4H158.00V648.4H158.60V648.4H159.20V648.4H159.80V648.4H160.40V644.2H161.00V646.3H161.60V647.3H162.20V645.2H162.80V646.3H163.40V648.4H164.00V647.3H164.60V646.3H165.20V647.3H165.80V647.3H166.40V647.3H167.00V648.4H167.60V646.3H168.20V646.3H168.80V646.3H169.40V645.2H170.00V647.3H170.60V647.3H171.20V647.3H171.80V647.3H172.40V648.4H173.00V648.4H173.60V645.2H174.20V647.3H174.80V643.1H175.40V643.1H176.00V642.1H176.60V645.2H177.20V645.2H177.80V645.2H178.40V644.2H179.00V642.1H179.60V643.1H180.20V639.9H180.80V641.0H181.40V636.8H182.00V626.2H182.60V628.3H183.20V624.1H183.80V624.1H184.40V622.0H185.00V606.1H185.60V619.9H186.20V604.0H186.80V607.2H187.40V608.3H188.00V605.1H188.60V596.6H189.20V613.5H189.80V591.4H190.40V600.9H191.00V595.6H191.60V592.4H192.20V592.4H192.80V599.8H193.40V599.8H194.00V601.9H194.60V624.1H195.20V620.9H195.80V624.1H196.40V638.9H197.00V622.0H197.60V634.7H198.20V636.8H198.80V643.1H199.40V642.1H200.00V643.1H200.60V643.1H201.20V645.2H201.80V645.2H202.40V647.3H203.00V646.3H203.60V644.2H204.20V646.3H204.80V648.4H205.40V646.3H206.00V647.3H206.60V647.3H207.20V646.3H207.80V648.4H208.40V646.3H209.00V648.4H209.60V646.3H210.20V646.3H210.80V648.4H211.40V647.3H212.00V644.2H212.60V647.3H213.20V647.3H213.80V648.4H214.40V647.3H215.00V647.3H215.60V647.3H216.20V645.2H216.80V645.2H217.40V646.3H218.00V645.2H218.60V647.3H219.20V643.1H219.80V646.3H220.40V643.1H221.00V641.0H221.60V638.9H222.20V642.1H222.80V641.0H223.40V633.6H224.00V630.4H224.60V634.7H225.20V627.3H225.80V631.5H226.40V622.0H227.00V622.0H227.60V597.7H228.20V612.5H228.80V608.3H229.40V584.0H230.00V574.5H230.60V569.2H231.20V571.3H231.80V561.9H232.40V574.5H233.00V566.0H233.60V561.9H234.20V565.0H234.80V581.9H235.40V589.2H236.00V605.1H236.60V609.3H237.20V617.8H237.80V624.1H238.40V633.6H239.00V630.4H239.60V634.7H240.20V642.1H240.80V634.7H241.40V643.1H242.00V647.3H242.60V646.3H243.20V643.1H243.80V643.1H244.40V646.3H245.00V647.3H245.60V648.4H246.20V644.2H246.80V646.3H247.40V648.4H248.00V648.4H248.60V648.4H249.20V648.4H249.80V648.4H250.40V648.4H251.00V648.4H251.60V648.4H252.20V648.4H252.80V648.4H253.40V648.4H254.00V648.4Z" fill="#000"/>
<line x1="145.60" y1="604.40" x2="222.30" y2="604.40" stroke="#555" stroke-width="0.8" stroke-linecap="butt"/>
<line x1="222.30" y1="602.60" x2="222.30" y2="606.20" stroke="#444" stroke-width="0.9" stroke-linecap="butt"/>
<text x="151.70" y="599.60" font-size="11.2" font-weight="normal" font-style="normal" text-anchor="start" fill="#000" >46.3%</text>
<rect x="278.6" y="559.4" width="108.70" height="89.00" fill="none" stroke="#8e8e8e" stroke-width="1.0"/>
<line x1="278.60" y1="559.40" x2="278.60" y2="648.40" stroke="#5a5a5a" stroke-width="1.0" stroke-linecap="butt"/>
<line x1="278.10" y1="648.40" x2="387.80" y2="648.40" stroke="#444" stroke-width="1.1" stroke-linecap="butt"/>
<line x1="278.60" y1="633.57" x2="280.80" y2="633.57" stroke="#777" stroke-width="0.8" stroke-linecap="butt"/>
<line x1="278.60" y1="618.73" x2="280.80" y2="618.73" stroke="#777" stroke-width="0.8" stroke-linecap="butt"/>
<line x1="278.60" y1="603.90" x2="280.80" y2="603.90" stroke="#777" stroke-width="0.8" stroke-linecap="butt"/>
<line x1="278.60" y1="589.07" x2="280.80" y2="589.07" stroke="#777" stroke-width="0.8" stroke-linecap="butt"/>
<line x1="278.60" y1="574.23" x2="280.80" y2="574.23" stroke="#777" stroke-width="0.8" stroke-linecap="butt"/>
<line x1="286.78" y1="648.40" x2="286.78" y2="649.60" stroke="#666" stroke-width="0.7" stroke-linecap="butt"/>
<line x1="291.57" y1="648.40" x2="291.57" y2="649.60" stroke="#666" stroke-width="0.7" stroke-linecap="butt"/>
<line x1="297.59" y1="648.40" x2="297.59" y2="649.60" stroke="#666" stroke-width="0.7" stroke-linecap="butt"/>
<line x1="301.57" y1="648.40" x2="301.57" y2="649.60" stroke="#666" stroke-width="0.7" stroke-linecap="butt"/>
<line x1="305.78" y1="648.40" x2="305.78" y2="650.80" stroke="#666" stroke-width="0.7" stroke-linecap="butt"/>
<line x1="305.78" y1="559.40" x2="305.78" y2="557.80" stroke="#999" stroke-width="0.7" stroke-linecap="butt"/>
<line x1="313.96" y1="648.40" x2="313.96" y2="649.60" stroke="#666" stroke-width="0.7" stroke-linecap="butt"/>
<line x1="318.74" y1="648.40" x2="318.74" y2="649.60" stroke="#666" stroke-width="0.7" stroke-linecap="butt"/>
<line x1="324.77" y1="648.40" x2="324.77" y2="649.60" stroke="#666" stroke-width="0.7" stroke-linecap="butt"/>
<line x1="328.74" y1="648.40" x2="328.74" y2="649.60" stroke="#666" stroke-width="0.7" stroke-linecap="butt"/>
<line x1="332.95" y1="648.40" x2="332.95" y2="650.80" stroke="#666" stroke-width="0.7" stroke-linecap="butt"/>
<line x1="332.95" y1="559.40" x2="332.95" y2="557.80" stroke="#999" stroke-width="0.7" stroke-linecap="butt"/>
<line x1="341.13" y1="648.40" x2="341.13" y2="649.60" stroke="#666" stroke-width="0.7" stroke-linecap="butt"/>
<line x1="345.92" y1="648.40" x2="345.92" y2="649.60" stroke="#666" stroke-width="0.7" stroke-linecap="butt"/>
<line x1="351.94" y1="648.40" x2="351.94" y2="649.60" stroke="#666" stroke-width="0.7" stroke-linecap="butt"/>
<line x1="355.92" y1="648.40" x2="355.92" y2="649.60" stroke="#666" stroke-width="0.7" stroke-linecap="butt"/>
<line x1="360.12" y1="648.40" x2="360.12" y2="650.80" stroke="#666" stroke-width="0.7" stroke-linecap="butt"/>
<line x1="360.12" y1="559.40" x2="360.12" y2="557.80" stroke="#999" stroke-width="0.7" stroke-linecap="butt"/>
<line x1="368.31" y1="648.40" x2="368.31" y2="649.60" stroke="#666" stroke-width="0.7" stroke-linecap="butt"/>
<line x1="373.09" y1="648.40" x2="373.09" y2="649.60" stroke="#666" stroke-width="0.7" stroke-linecap="butt"/>
<line x1="379.12" y1="648.40" x2="379.12" y2="649.60" stroke="#666" stroke-width="0.7" stroke-linecap="butt"/>
<line x1="383.09" y1="648.40" x2="383.09" y2="649.60" stroke="#666" stroke-width="0.7" stroke-linecap="butt"/>
<path d="M279.60,648.4V648.4H280.20V648.4H280.80V648.4H281.40V648.4H282.00V648.4H282.60V648.4H283.20V648.4H283.80V648.4H284.40V648.4H285.00V648.4H285.60V648.4H286.20V648.4H286.80V648.4H287.40V648.4H288.00V648.4H288.60V648.4H289.20V648.4H289.80V648.4H290.40V648.4H291.00V648.4H291.60V648.4H292.20V646.3H292.80V648.4H293.40V648.4H294.00V648.4H294.60V648.4H295.20V648.4H295.80V646.3H296.40V648.4H297.00V648.4H297.60V644.2H298.20V646.3H298.80V648.4H299.40V648.4H300.00V648.4H300.60V644.2H301.20V642.1H301.80V646.3H302.40V648.4H303.00V646.3H303.60V646.3H304.20V646.3H304.80V644.2H305.40V646.3H306.00V646.3H306.60V648.4H307.20V644.2H307.80V646.3H308.40V648.4H309.00V646.3H309.60V646.3H310.20V648.4H310.80V646.3H311.40V644.2H312.00V646.3H312.60V646.3H313.20V646.3H313.80V646.3H314.40V642.1H315.00V644.2H315.60V639.9H316.20V646.3H316.80V644.2H317.40V639.9H318.00V637.8H318.60V633.6H319.20V639.9H319.80V633.6H320.40V646.3H321.00V631.5H321.60V625.2H322.20V631.5H322.80V625.2H323.40V631.5H324.00V629.4H324.60V629.4H325.20V627.3H325.80V620.9H326.40V631.5H327.00V625.2H327.60V631.5H328.20V637.8H328.80V642.1H329.40V644.2H330.00V637.8H330.60V646.3H331.20V639.9H331.80V642.1H332.40V637.8H333.00V642.1H333.60V633.8H334.20V644.2H334.80V646.3H335.40V642.1H336.00V642.1H336.60V644.2H337.20V646.3H337.80V648.4H338.40V644.2H339.00V646.3H339.60V646.3H340.20V646.3H340.80V644.2H341.40V642.1H342.00V644.2H342.60V648.4H343.20V648.4H343.80V648.4H344.40V644.2H345.00V646.3H345.60V648.4H346.20V648.4H346.80V648.4H347.40V644.2H348.00V646.3H348.60V648.4H349.20V648.4H349.80V644.2H350.40V641.1H351.00V648.4H351.60V648.4H352.20V646.3H352.80V648.4H353.40V644.2H354.00V648.4H354.60V644.2H355.20V648.4H355.80V646.3H356.40V642.1H357.00V648.4H357.60V646.3H358.20V648.4H358.80V639.9H359.40V646.3H360.00V646.3H360.60V639.9H361.20V637.8H361.80V635.7H362.40V637.8H363.00V637.8H363.60V627.3H364.20V633.6H364.80V629.4H365.40V618.8H366.00V631.5H366.60V606.1H367.20V608.3H367.80V599.8H368.40V574.5H369.00V570.2H369.60V589.2H370.20V585.0H370.80V578.7H371.40V599.8H372.00V618.8H372.60V635.7H373.20V637.8H373.80V646.3H374.40V637.8H375.00V648.4H375.60V648.4H376.20V646.3H376.80V644.2H377.40V646.3H378.00V648.4H378.60V646.3H379.20V646.3H379.80V648.4H380.40V648.4H381.00V648.4H381.60V648.4H382.20V648.4H382.80V648.4H383.40V648.4H384.00V648.4H384.60V648.4H385.20V648.4H385.80V648.4H386.40V648.4H387.00V648.4Z" fill="#000"/>
<line x1="278.60" y1="604.40" x2="355.60" y2="604.40" stroke="#555" stroke-width="0.8" stroke-linecap="butt"/>
<line x1="355.60" y1="602.60" x2="355.60" y2="606.20" stroke="#444" stroke-width="0.9" stroke-linecap="butt"/>
<text x="285.40" y="599.60" font-size="11.2" font-weight="normal" font-style="normal" text-anchor="start" fill="#000" >31.0%</text>
<rect x="398.3" y="559.4" width="109.30" height="89.00" fill="none" stroke="#8e8e8e" stroke-width="1.0"/>
<line x1="398.30" y1="559.40" x2="398.30" y2="648.40" stroke="#5a5a5a" stroke-width="1.0" stroke-linecap="butt"/>
<line x1="397.80" y1="648.40" x2="508.10" y2="648.40" stroke="#444" stroke-width="1.1" stroke-linecap="butt"/>
<line x1="398.30" y1="633.57" x2="400.50" y2="633.57" stroke="#777" stroke-width="0.8" stroke-linecap="butt"/>
<line x1="398.30" y1="618.73" x2="400.50" y2="618.73" stroke="#777" stroke-width="0.8" stroke-linecap="butt"/>
<line x1="398.30" y1="603.90" x2="400.50" y2="603.90" stroke="#777" stroke-width="0.8" stroke-linecap="butt"/>
<line x1="398.30" y1="589.07" x2="400.50" y2="589.07" stroke="#777" stroke-width="0.8" stroke-linecap="butt"/>
<line x1="398.30" y1="574.23" x2="400.50" y2="574.23" stroke="#777" stroke-width="0.8" stroke-linecap="butt"/>
<line x1="406.53" y1="648.40" x2="406.53" y2="649.60" stroke="#666" stroke-width="0.7" stroke-linecap="butt"/>
<line x1="411.34" y1="648.40" x2="411.34" y2="649.60" stroke="#666" stroke-width="0.7" stroke-linecap="butt"/>
<line x1="417.40" y1="648.40" x2="417.40" y2="649.60" stroke="#666" stroke-width="0.7" stroke-linecap="butt"/>
<line x1="421.39" y1="648.40" x2="421.39" y2="649.60" stroke="#666" stroke-width="0.7" stroke-linecap="butt"/>
<line x1="425.62" y1="648.40" x2="425.62" y2="650.80" stroke="#666" stroke-width="0.7" stroke-linecap="butt"/>
<line x1="425.62" y1="559.40" x2="425.62" y2="557.80" stroke="#999" stroke-width="0.7" stroke-linecap="butt"/>
<line x1="433.85" y1="648.40" x2="433.85" y2="649.60" stroke="#666" stroke-width="0.7" stroke-linecap="butt"/>
<line x1="438.66" y1="648.40" x2="438.66" y2="649.60" stroke="#666" stroke-width="0.7" stroke-linecap="butt"/>
<line x1="444.72" y1="648.40" x2="444.72" y2="649.60" stroke="#666" stroke-width="0.7" stroke-linecap="butt"/>
<line x1="448.72" y1="648.40" x2="448.72" y2="649.60" stroke="#666" stroke-width="0.7" stroke-linecap="butt"/>
<line x1="452.95" y1="648.40" x2="452.95" y2="650.80" stroke="#666" stroke-width="0.7" stroke-linecap="butt"/>
<line x1="452.95" y1="559.40" x2="452.95" y2="557.80" stroke="#999" stroke-width="0.7" stroke-linecap="butt"/>
<line x1="461.18" y1="648.40" x2="461.18" y2="649.60" stroke="#666" stroke-width="0.7" stroke-linecap="butt"/>
<line x1="465.99" y1="648.40" x2="465.99" y2="649.60" stroke="#666" stroke-width="0.7" stroke-linecap="butt"/>
<line x1="472.05" y1="648.40" x2="472.05" y2="649.60" stroke="#666" stroke-width="0.7" stroke-linecap="butt"/>
<line x1="476.04" y1="648.40" x2="476.04" y2="649.60" stroke="#666" stroke-width="0.7" stroke-linecap="butt"/>
<line x1="480.28" y1="648.40" x2="480.28" y2="650.80" stroke="#666" stroke-width="0.7" stroke-linecap="butt"/>
<line x1="480.28" y1="559.40" x2="480.28" y2="557.80" stroke="#999" stroke-width="0.7" stroke-linecap="butt"/>
<line x1="488.50" y1="648.40" x2="488.50" y2="649.60" stroke="#666" stroke-width="0.7" stroke-linecap="butt"/>
<line x1="493.31" y1="648.40" x2="493.31" y2="649.60" stroke="#666" stroke-width="0.7" stroke-linecap="butt"/>
<line x1="499.37" y1="648.40" x2="499.37" y2="649.60" stroke="#666" stroke-width="0.7" stroke-linecap="butt"/>
<line x1="503.37" y1="648.40" x2="503.37" y2="649.60" stroke="#666" stroke-width="0.7" stroke-linecap="butt"/>
<path d="M399.30,648.4V648.4H399.90V648.4H400.50V648.4H401.10V648.4H401.70V648.4H402.30V648.4H402.90V648.4H403.50V648.4H404.10V648.4H404.70V648.4H405.30V648.4H405.90V648.4H406.50V648.4H407.10V648.4H407.70V648.4H408.30V648.4H408.90V648.4H409.50V648.4H410.10V648.4H410.70V648.4H411.30V648.4H411.90V648.4H412.50V646.3H413.10V644.2H413.70V646.3H414.30V646.3H414.90V646.3H415.50V648.4H416.10V644.2H416.70V648.4H417.30V642.1H417.90V642.1H418.50V648.4H419.10V642.1H419.70V644.2H420.30V648.4H420.90V648.4H421.50V648.4H422.10V639.9H422.70V648.4H423.30V648.4H423.90V644.2H424.50V648.4H425.10V646.3H425.70V646.3H426.30V648.4H426.90V642.1H427.50V646.3H428.10V648.4H428.70V646.3H429.30V646.3H429.90V639.9H430.50V648.4H431.10V642.1H431.70V644.2H432.30V642.1H432.90V642.1H433.50V642.1H434.10V637.8H434.70V642.1H435.30V642.1H435.90V639.9H436.50V629.4H437.10V637.8H437.70V639.9H438.30V642.1H438.90V623.0H439.50V639.9H440.10V618.8H440.70V614.6H441.30V633.6H441.90V610.4H442.50V608.3H443.10V601.9H443.70V614.6H444.30V585.0H444.90V587.1H445.50V610.4H446.10V599.8H446.70V608.3H447.30V608.3H447.90V616.7H448.50V604.0H449.10V631.5H449.70V625.2H450.30V635.7H450.90V633.6H451.50V625.2H452.10V637.8H452.70V629.4H453.30V627.3H453.90V639.9H454.50V625.2H455.10V637.8H455.70V633.6H456.30V639.9H456.90V637.8H457.50V639.9H458.10V639.9H458.70V644.2H459.30V646.3H459.90V648.4H460.50V646.3H461.10V639.9H461.70V644.2H462.30V648.4H462.90V642.1H463.50V648.4H464.10V646.3H464.70V646.3H465.30V644.2H465.90V646.3H466.50V644.2H467.10V648.4H467.70V646.3H468.30V648.4H468.90V644.2H469.50V644.2H470.10V648.4H470.70V644.2H471.30V646.3H471.90V635.7H472.50V644.2H473.10V639.9H473.70V637.8H474.30V637.8H474.90V642.1H475.50V637.8H476.10V644.2H476.70V635.7H477.30V633.6H477.90V635.7H478.50V642.1H479.10V633.6H479.70V631.5H480.30V627.3H480.90V618.8H481.50V625.2H482.10V612.5H482.70V620.9H483.30V586.1H483.90V610.4H484.50V610.4H485.10V606.1H485.70V593.5H486.30V587.1H486.90V574.5H487.50V578.7H488.10V568.1H488.70V563.9H489.30V585.0H489.90V580.8H490.50V608.3H491.10V610.4H491.70V629.4H492.30V627.3H492.90V627.3H493.50V629.4H494.10V644.2H494.70V635.7H495.30V635.7H495.90V646.3H496.50V639.9H497.10V646.3H497.70V644.2H498.30V648.4H498.90V644.2H499.50V648.4H500.10V648.4H500.70V646.3H501.30V648.4H501.90V648.4H502.50V648.4H503.10V648.4H503.70V648.4H504.30V648.4H504.90V648.4H505.50V648.4H506.10V648.4H506.70V648.4H507.30V648.4Z" fill="#000"/>
<line x1="398.30" y1="604.40" x2="475.60" y2="604.40" stroke="#555" stroke-width="0.8" stroke-linecap="butt"/>
<line x1="475.60" y1="602.60" x2="475.60" y2="606.20" stroke="#444" stroke-width="0.9" stroke-linecap="butt"/>
<text x="403.10" y="599.60" font-size="11.2" font-weight="normal" font-style="normal" text-anchor="start" fill="#000" >45.9%</text>
</svg>
</body>
</html>
